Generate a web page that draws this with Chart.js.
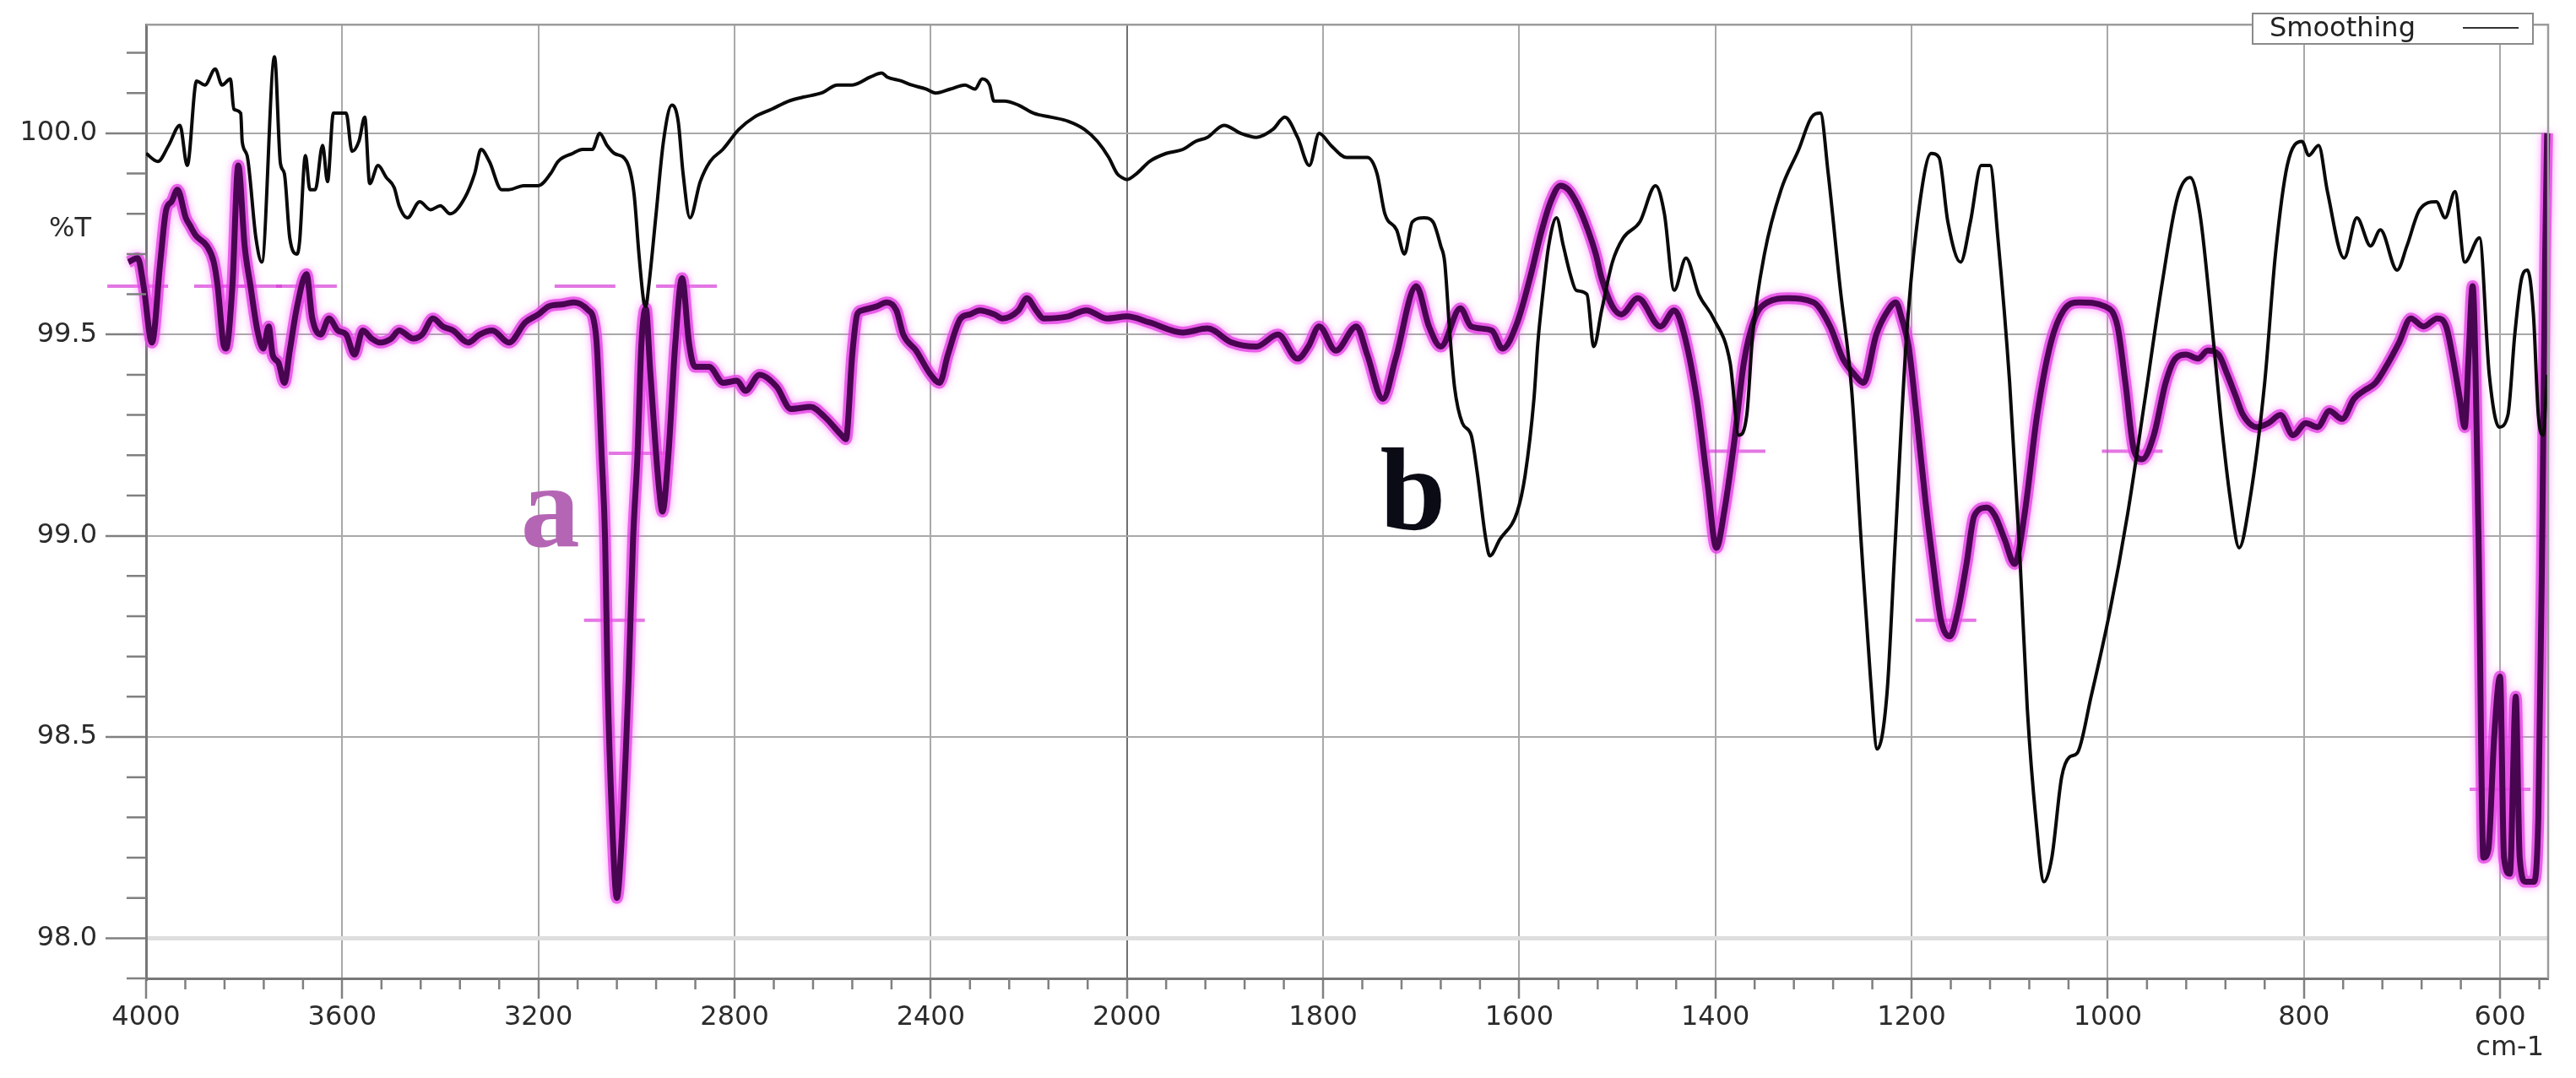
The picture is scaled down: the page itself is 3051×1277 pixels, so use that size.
<!DOCTYPE html>
<html>
<head>
<meta charset="utf-8">
<title>FTIR spectra a / b</title>
<script src="https://cdn.jsdelivr.net/npm/chart.js@4.4.1/dist/chart.umd.min.js"></script>
<style>
  html, body { margin: 0; padding: 0; background: #ffffff; }
  #wrap { width: 3051px; height: 1277px; }
</style>
</head>
<body>
<div id="wrap"><canvas id="ftir" width="3051" height="1277"></canvas></div>
<script>
// Axis ticks
const xMajorTicks = [4000, 3600, 3200, 2800, 2400, 2000, 1800, 1600, 1400, 1200, 1000, 800, 600];
const yMajorTicks = [98.0, 98.5, 99.0, 99.5, 100.0];

// Spectrum b (black, "Smoothing"): wavenumber (cm-1) and %T
const bWavenumbers = [4000,3976,3954,3931,3916,3897,3880,3859,3845,3828,3821,3807,3804,3794,3776,3764,3738,3726,3718,3707,
  3692,3687,3675,3666,3655,3640,3630,3618,3592,3580,3566,3554,3544,3527,3510,3494,3484,3467,3442,3420,
  3400,3380,3350,3330,3317,3300,3275,3260,3230,3200,3175,3160,3130,3110,3090,3075,3060,3045,3020,3005,
  2995,2985,2981,2975,2960,2945,2928,2915,2905,2891,2870,2850,2824,2791,2760,2724,2690,2660,2623,2590,
  2560,2523,2500,2489,2460,2439,2410,2390,2360,2330,2310,2295,2280,2271,2250,2221,2190,2154,2120,2087,
  2060,2037,2020,2010,2000,1990,1977,1960,1943,1930,1918,1901,1884,1868,1851,1839,1826,1814,1804,1792,
  1776,1755,1745,1737,1725,1717,1709,1697,1688,1680,1676,1671,1666,1658,1649,1643,1634,1630,1620,1602,
  1594,1585,1581,1576,1570,1562,1555,1548,1542,1531,1524,1516,1505,1494,1477,1461,1452,1442,1430,1417,
  1402,1385,1376,1368,1362,1350,1333,1315,1302,1293,1285,1273,1261,1251,1242,1235,1225,1217,1205,1192,
  1180,1172,1163,1150,1140,1129,1120,1112,1100,1090,1082,1073,1065,1057,1047,1039,1031,1017,998,980,
  962,945,929,916,906,896,885,875,866,855,840,829,817,802,795,785,776,759,746,732,
  722,705,695,682,665,656,646,636,621,611,601,592,585,578,572,566,561,556,552];
const bValues = [99.95,99.93,99.97,100.02,99.92,100.13,100.12,100.16,100.12,100.135,100.06,100.05,99.98,99.945,99.74,99.68,100.19,99.925,99.9,99.74,
  99.70,99.73,99.945,99.86,99.86,99.97,99.88,100.05,100.05,99.955,99.98,100.04,99.875,99.92,99.89,99.865,99.82,99.79,99.83,99.81,
  99.82,99.80,99.84,99.9,99.96,99.93,99.86,99.86,99.87,99.87,99.9,99.93,99.95,99.96,99.96,100.0,99.97,99.95,99.93,99.85,
  99.7,99.58,99.57,99.62,99.8,99.98,100.07,100.03,99.9,99.79,99.88,99.93,99.96,100.01,100.04,100.06,100.08,100.09,100.10,100.12,
  100.12,100.14,100.15,100.14,100.13,100.12,100.11,100.10,100.11,100.12,100.11,100.135,100.12,100.08,100.08,100.07,100.05,100.04,100.03,100.01,
  99.98,99.94,99.9,99.89,99.885,99.9,99.93,99.95,99.96,99.98,99.99,100.02,100.0,99.99,100.01,100.04,99.99,99.92,100.0,99.97,
  99.94,99.94,99.9,99.8,99.76,99.70,99.78,99.79,99.78,99.72,99.68,99.51,99.37,99.28,99.25,99.16,98.99,98.95,98.99,99.06,
  99.15,99.34,99.48,99.6,99.72,99.79,99.72,99.65,99.61,99.6,99.47,99.56,99.68,99.74,99.78,99.87,99.8,99.61,99.69,99.6,
  99.54,99.43,99.25,99.3,99.5,99.7,99.86,99.96,100.04,100.05,99.9,99.62,99.36,98.97,98.65,98.47,98.61,98.97,99.5,99.82,
  99.95,99.94,99.78,99.68,99.78,99.92,99.92,99.74,99.38,98.97,98.57,98.29,98.14,98.2,98.4,98.45,98.46,98.6,98.81,99.05,
  99.34,99.62,99.84,99.89,99.8,99.58,99.3,99.09,98.97,99.09,99.38,99.7,99.92,99.98,99.945,99.97,99.855,99.69,99.79,99.72,
  99.76,99.66,99.72,99.81,99.83,99.79,99.855,99.68,99.74,99.4,99.27,99.3,99.5,99.64,99.66,99.55,99.3,99.25,99.4];

// Spectrum a (purple): wavenumber (cm-1) and %T
const aWavenumbers = [4036,4017,4005,3988,3971,3959,3948,3936,3919,3910,3898,3876,3862,3854,3842,3837,3824,3812,3799,3787,
  3773,3761,3750,3742,3730,3718,3707,3692,3673,3661,3644,3627,3609,3592,3575,3558,3540,3523,3500,3484,
  3455,3437,3415,3395,3374,3343,3320,3294,3260,3227,3200,3179,3150,3127,3098,3088,3081,3071,3064,3059,
  3050,3040,3030,3016,3007,2998,2990,2981,2972,2955,2947,2935,2921,2907,2893,2881,2852,2823,2795,2778,
  2749,2714,2685,2645,2616,2582,2573,2560,2550,2540,2510,2490,2470,2456,2430,2400,2382,2365,2339,2320,
  2300,2270,2254,2221,2204,2185,2170,2120,2083,2040,2000,1977,1943,1918,1893,1868,1846,1826,1815,1804,
  1787,1766,1755,1739,1726,1705,1692,1680,1660,1649,1628,1617,1602,1588,1578,1568,1558,1550,1540,1530,
  1522,1516,1505,1496,1479,1456,1442,1434,1419,1408,1399,1391,1381,1371,1360,1347,1326,1300,1283,1270,
  1258,1249,1236,1224,1216,1210,1203,1195,1186,1178,1170,1161,1153,1144,1136,1123,1115,1105,1095,1085,
  1072,1058,1045,1029,1003,990,982,973,965,953,941,931,920,908,898,887,878,870,862,848,
  836,824,811,798,786,774,761,749,739,727,714,703,691,678,664,655,648,641,636,632,
  628,622,617,612,606,600,596,590,584,580,574,566,561,557,554,552];
const aValues = [99.68,99.69,99.62,99.48,99.68,99.81,99.83,99.86,99.79,99.77,99.745,99.72,99.68,99.62,99.475,99.465,99.62,99.92,99.72,99.62,
  99.51,99.465,99.52,99.45,99.43,99.38,99.46,99.57,99.65,99.54,99.50,99.54,99.51,99.50,99.45,99.51,99.49,99.48,99.49,99.51,
  99.49,99.50,99.54,99.52,99.51,99.48,99.5,99.51,99.48,99.53,99.55,99.57,99.575,99.58,99.56,99.54,99.475,99.2,98.99,98.645,
  98.3,98.1,98.25,98.645,98.99,99.2,99.475,99.565,99.41,99.13,99.06,99.2,99.475,99.64,99.48,99.42,99.42,99.38,99.385,99.36,
  99.40,99.37,99.315,99.32,99.295,99.25,99.24,99.45,99.55,99.56,99.57,99.58,99.56,99.5,99.46,99.4,99.38,99.45,99.54,99.55,
  99.56,99.55,99.54,99.56,99.59,99.56,99.54,99.545,99.56,99.54,99.545,99.53,99.505,99.515,99.48,99.47,99.5,99.44,99.47,99.52,
  99.46,99.52,99.45,99.34,99.44,99.62,99.52,99.47,99.565,99.52,99.51,99.465,99.53,99.65,99.75,99.83,99.87,99.86,99.82,99.76,
  99.7,99.64,99.57,99.55,99.59,99.52,99.56,99.52,99.34,99.13,98.97,99.06,99.23,99.43,99.54,99.58,99.59,99.58,99.52,99.44,
  99.4,99.38,99.5,99.56,99.58,99.54,99.47,99.3,99.09,98.93,98.79,98.75,98.81,98.93,99.05,99.07,99.05,98.99,98.93,99.05,
  99.3,99.48,99.56,99.58,99.57,99.52,99.38,99.21,99.19,99.25,99.38,99.44,99.45,99.44,99.46,99.45,99.4,99.35,99.3,99.27,
  99.28,99.3,99.25,99.28,99.27,99.31,99.29,99.34,99.36,99.38,99.43,99.48,99.54,99.52,99.54,99.52,99.44,99.34,99.27,99.45,
  99.62,99.0,98.2,98.22,98.5,98.65,98.2,98.16,98.6,98.2,98.14,98.14,98.3,99.0,99.7,100.0];

// Peak-pick marks left on trace a by the instrument software
const markWavenumbers = [4017, 3840, 3785, 3673, 3105, 2898, 2995, 3045, 1380, 1165, 975, 600];
const markValues = [99.62, 99.62, 99.62, 99.62, 99.62, 99.62, 99.205, 98.79, 99.21, 98.79, 99.21, 98.37];

// FTIR x axis: 4000-2000 cm-1 is compressed 2:1 against 2000-400 cm-1
function toAxisUnits(wn) {
    return wn >= 2000 ? (4000 - wn) / 2 : 1000 + (2000 - wn);
}
function fromAxisUnits(u) {
    return u <= 1000 ? 4000 - 2 * u : 2000 - (u - 1000);
}

class WavenumberScale extends Chart.LinearScale {
    getPixelForValue(value) {
        const u0 = toAxisUnits(this.max);
        const u1 = toAxisUnits(this.min);
        return this.left + (toAxisUnits(value) - u0) / (u1 - u0) * this.width;
    }
    getValueForPixel(pixel) {
        const u0 = toAxisUnits(this.max);
        const u1 = toAxisUnits(this.min);
        return fromAxisUnits(u0 + (pixel - this.left) / this.width * (u1 - u0));
    }
}
WavenumberScale.id = 'wavenumber';
WavenumberScale.defaults = Chart.LinearScale.defaults;
Chart.register(WavenumberScale);

const toPoints = (xs, ys) => xs.map((x, i) => ({ x: x, y: ys[i] }));

// Soft magenta halo under the purple trace
const glowPlugin = {
    id: 'glow',
    beforeDatasetDraw(chart, args) {
        if (args.index !== 2) return;
        const ctx = chart.ctx;
        ctx.save();
        ctx.shadowColor = 'rgba(255, 110, 255, 0.9)';
        ctx.shadowBlur = 10;
    },
    afterDatasetDraw(chart, args) {
        if (args.index !== 2) return;
        chart.ctx.restore();
    }
};

// Frame, minor ticks, axis titles, legend box and a/b labels
const decorPlugin = {
    id: 'decor',
    afterDraw(chart) {
        const ctx = chart.ctx;
        const ca = chart.chartArea;
        const x = chart.scales.x;
        const y = chart.scales.y;
        ctx.save();

        ctx.strokeStyle = '#9c9c9c';
        ctx.lineWidth = 2.5;
        ctx.beginPath();
        ctx.moveTo(ca.left, ca.top);
        ctx.lineTo(ca.right, ca.top);
        ctx.lineTo(ca.right, ca.bottom);
        ctx.stroke();

        // minor ticks
        ctx.strokeStyle = '#808080';
        ctx.lineWidth = 2.5;
        ctx.beginPath();
        for (let v = 3920; v > 2000; v -= 80) {
            if (xMajorTicks.includes(v)) continue;
            const px = x.getPixelForValue(v);
            ctx.moveTo(px, ca.bottom);
            ctx.lineTo(px, ca.bottom + 13);
        }
        for (let v = 1960; v >= x.min; v -= 40) {
            if (xMajorTicks.includes(v)) continue;
            const px = x.getPixelForValue(v);
            ctx.moveTo(px, ca.bottom);
            ctx.lineTo(px, ca.bottom + 13);
        }
        for (let k = 979; k <= 1002; k++) {
            if (k % 5 === 0) continue;
            const py = y.getPixelForValue(k / 10);
            ctx.moveTo(ca.left - 23, py);
            ctx.lineTo(ca.left, py);
        }
        ctx.stroke();

        ctx.fillStyle = '#2b2b2b';
        ctx.font = '32px "DejaVu Sans"';
        ctx.textAlign = 'right';
        ctx.textBaseline = 'alphabetic';
        ctx.fillText('%T', 108, 280);
        ctx.fillText('cm-1', 3013, 1250);

        // legend
        const lx = 2668, ly = 16, lw = 332, lh = 36;
        ctx.fillStyle = '#ffffff';
        ctx.fillRect(lx, ly, lw, lh);
        ctx.strokeStyle = '#8a8a8a';
        ctx.lineWidth = 2;
        ctx.strokeRect(lx, ly, lw, lh);
        ctx.fillStyle = '#222222';
        ctx.textAlign = 'left';
        ctx.fillText('Smoothing', 2688, 43);
        ctx.strokeStyle = '#333333';
        ctx.lineWidth = 2;
        ctx.beginPath();
        ctx.moveTo(2917, 33);
        ctx.lineTo(2983, 33);
        ctx.stroke();

        // spectrum labels
        ctx.font = 'bold 140px "Liberation Serif"';
        ctx.fillStyle = '#b466b4';
        ctx.fillText('a', x.getPixelForValue(3236), y.getPixelForValue(98.973));
        ctx.fillStyle = '#0b0b16';
        ctx.fillText('b', x.getPixelForValue(1742), y.getPixelForValue(99.015));

        ctx.restore();
    }
};

Chart.defaults.font.family = '"DejaVu Sans", sans-serif';
Chart.defaults.font.size = 32;
Chart.defaults.color = '#2b2b2b';

new Chart(document.getElementById('ftir'), {
    type: 'line',
    data: {
        datasets: [
            {
                label: 'Smoothing',
                data: toPoints(bWavenumbers, bValues),
                borderColor: '#0a0a0a',
                borderWidth: 4,
                pointRadius: 0,
                cubicInterpolationMode: 'monotone',
                fill: false
            },
            {
                label: 'a',
                data: toPoints(aWavenumbers, aValues),
                borderColor: '#480550',
                borderWidth: 7,
                pointRadius: 0,
                cubicInterpolationMode: 'monotone',
                fill: false,
                clip: false
            },
            {
                label: 'a halo',
                data: toPoints(aWavenumbers, aValues),
                borderColor: 'rgba(226, 60, 226, 0.75)',
                borderWidth: 14,
                pointRadius: 0,
                cubicInterpolationMode: 'monotone',
                fill: false,
                clip: false
            },
            {
                label: 'peak marks',
                data: toPoints(markWavenumbers, markValues),
                showLine: false,
                pointStyle: 'line',
                pointRadius: 36,
                borderColor: 'rgba(215, 60, 215, 0.7)',
                borderWidth: 4,
                clip: false
            }
        ]
    },
    options: {
        responsive: false,
        devicePixelRatio: 1,
        animation: false,
        events: [],
        layout: { autoPadding: false, padding: { top: 16, right: 33, left: 0, bottom: 0 } },
        plugins: {
            legend: { display: false },
            tooltip: { enabled: false }
        },
        scales: {
            x: {
                type: 'wavenumber',
                min: 551,
                max: 4000,
                afterBuildTicks: (scale) => { scale.ticks = xMajorTicks.map(v => ({ value: v })); },
                afterFit: (scale) => { scale.height = 118; },
                ticks: {
                    autoSkip: false,
                    maxRotation: 0,
                    padding: 3,
                    callback: (v) => String(v)
                },
                grid: {
                    color: (c) => (c.tick && c.tick.value === 2000) ? '#707070' : '#a9a9a9',
                    lineWidth: 2,
                    tickLength: 24,
                    tickColor: '#808080',
                    tickWidth: 2.5
                },
                border: { color: '#777777', width: 3 }
            },
            y: {
                type: 'linear',
                min: 97.9,
                max: 100.27,
                afterBuildTicks: (scale) => { scale.ticks = yMajorTicks.map(v => ({ value: v })); },
                afterFit: (scale) => { scale.width = 173; },
                ticks: {
                    padding: 10,
                    callback: (v) => Number(v).toFixed(1)
                },
                grid: {
                    color: (c) => (c.tick && c.tick.value === 98) ? '#dedede' : '#a9a9a9',
                    lineWidth: (c) => (c.tick && c.tick.value === 98) ? 5 : 2,
                    tickLength: 48,
                    tickColor: '#808080',
                    tickWidth: 2.5
                },
                border: { color: '#777777', width: 3 }
            }
        }
    },
    plugins: [glowPlugin, decorPlugin]
});
</script>
</body>
</html>
